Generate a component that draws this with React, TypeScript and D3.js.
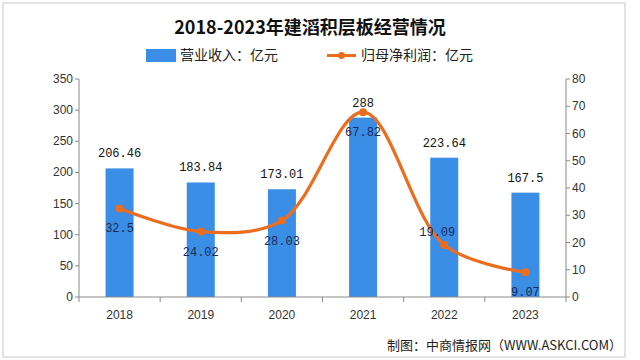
import * as d3 from 'd3';

const years = ['2018', '2019', '2020', '2021', '2022', '2023'];
const revenue = [206.46, 183.84, 173.01, 288, 223.64, 167.5];
const profit = [32.5, 24.02, 28.03, 67.82, 19.09, 9.07];
const leftTicks = [0, 50, 100, 150, 200, 250, 300, 350];
const rightTicks = [0, 10, 20, 30, 40, 50, 60, 70, 80];
const profitLabelAbove = [false, false, false, false, true, false];

const W = 640;
const H = 360;
const plot = { left: 79, right: 566, top: 79, bottom: 297 };
const barColor = '#3a8ee6';
const lineColor = '#ed6d1f';
const axisColor = '#8a8a8a';
const numFont = '"Liberation Mono", monospace';
const sans = '"Liberation Sans", Arial, sans-serif';
const cjk = '"Noto Sans CJK SC", sans-serif';

export default function App() {
  const x = d3.scaleBand<string>().domain(years).range([plot.left, plot.right]).paddingInner(0).paddingOuter(0);
  const yL = d3.scaleLinear().domain([0, 350]).range([plot.bottom, plot.top]);
  const yR = d3.scaleLinear().domain([0, 80]).range([plot.bottom, plot.top]);
  const barW = 28;
  const cx = (y: string) => (x(y) ?? 0) + x.bandwidth() / 2;

  // smooth line, like the spreadsheet's smoothed series
  const line = d3
    .line<number>()
    .x((_, i) => cx(years[i]))
    .y((d) => yR(d))
    .curve(d3.curveCatmullRom.alpha(0.5));

  const boundaries = years.map((y) => x(y) ?? 0).concat([plot.right]);

  return (
    <svg width={W} height={H} style={{ position: 'absolute', left: 0, top: 0, background: '#fff' }}>
      <rect x={3} y={3} width={622} height={354} fill="#fff" stroke="#c8c8c8" strokeWidth={1} />

      {/* title */}
      <text x={310} y={34} textAnchor="middle" fontFamily={cjk} fontWeight="bold" fontSize={18} fill="#111">
        2018-2023年建滔积层板经营情况
      </text>

      {/* legend */}
      <rect x={146} y={49} width={30} height={13} fill={barColor} />
      <text x={180} y={60} fontFamily={cjk} fontSize={14} fill="#222">营业收入：亿元</text>
      <line x1={327} x2={356} y1={55.5} y2={55.5} stroke={lineColor} strokeWidth={3} />
      <circle cx={341.5} cy={55.5} r={3.5} fill={lineColor} />
      <text x={361} y={60} fontFamily={cjk} fontSize={14} fill="#222">归母净利润：亿元</text>

      {/* bars */}
      {revenue.map((v, i) => (
        <rect key={years[i]} x={cx(years[i]) - barW / 2} y={yL(v)} width={barW} height={plot.bottom - yL(v)} fill={barColor} />
      ))}

      {/* axes */}
      <line x1={plot.left} x2={plot.left} y1={plot.top} y2={plot.bottom} stroke={axisColor} />
      <line x1={plot.right} x2={plot.right} y1={plot.top} y2={plot.bottom} stroke={axisColor} />
      <line x1={plot.left} x2={plot.right} y1={plot.bottom} y2={plot.bottom} stroke={axisColor} />
      {leftTicks.map((t) => (
        <g key={'l' + t}>
          <line x1={plot.left - 4} x2={plot.left} y1={yL(t)} y2={yL(t)} stroke={axisColor} />
          <text x={plot.left - 6} y={yL(t) + 4} textAnchor="end" fontFamily={sans} fontSize={12} fill="#333">{t}</text>
        </g>
      ))}
      {rightTicks.map((t) => (
        <g key={'r' + t}>
          <line x1={plot.right} x2={plot.right + 4} y1={yR(t)} y2={yR(t)} stroke={axisColor} />
          <text x={plot.right + 6} y={yR(t) + 4} textAnchor="start" fontFamily={sans} fontSize={12} fill="#333">{t}</text>
        </g>
      ))}
      {boundaries.map((b, i) => (
        <line key={'b' + i} x1={b} x2={b} y1={plot.bottom} y2={plot.bottom + 5} stroke={axisColor} />
      ))}
      {years.map((y) => (
        <text key={'x' + y} x={cx(y)} y={319} textAnchor="middle" fontFamily={sans} fontSize={12} fill="#333">{y}</text>
      ))}

      {/* profit line */}
      <path d={line(profit) ?? ''} fill="none" stroke={lineColor} strokeWidth={3.2} />
      {profit.map((v, i) => (
        <circle key={'p' + i} cx={cx(years[i])} cy={yR(v)} r={4} fill={lineColor} />
      ))}

      {/* bar labels */}
      {revenue.map((v, i) => (
        <text key={'rl' + i} x={cx(years[i])} y={yL(v) - 11} textAnchor="middle" fontFamily={numFont} fontSize={12} fill="#111">
          {v}
        </text>
      ))}
      {/* line labels */}
      {profit.map((v, i) => (
        <text
          key={'pl' + i}
          x={cx(years[i]) + (profitLabelAbove[i] ? -7 : 0)}
          y={profitLabelAbove[i] ? yR(v) - 9 : yR(v) + 24}
          textAnchor="middle"
          fontFamily={numFont}
          fontSize={12}
          fill="#1b2a55"
        >
          {v}
        </text>
      ))}

      {/* source */}
      <text x={622} y={350} textAnchor="end" fontFamily={cjk} fontSize={13} fill="#222">
        制图：中商情报网（WWW.ASKCI.COM）
      </text>
    </svg>
  );
}
